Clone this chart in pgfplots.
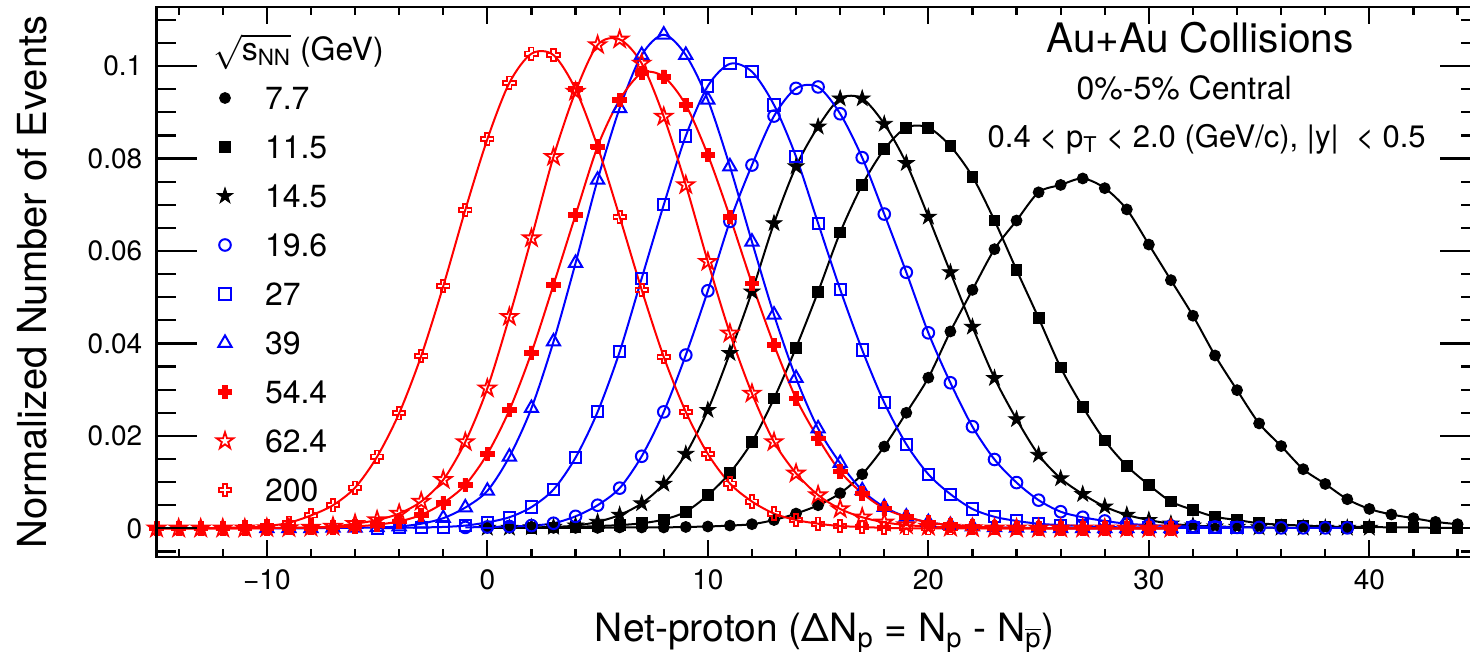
\documentclass[border=0pt]{standalone}
\usepackage{fontspec}
\setmainfont{TeX Gyre Heros}
\usepackage{pgfplots}
\pgfplotsset{compat=1.18}
\usetikzlibrary{plotmarks}

\newcommand{\starpath}{%
  \pgfpathmoveto{\pgfqpointpolar{90}{\pgfplotmarksize}}%
  \pgfpathlineto{\pgfqpointpolar{126}{0.38\pgfplotmarksize}}%
  \pgfpathlineto{\pgfqpointpolar{162}{\pgfplotmarksize}}%
  \pgfpathlineto{\pgfqpointpolar{198}{0.38\pgfplotmarksize}}%
  \pgfpathlineto{\pgfqpointpolar{234}{\pgfplotmarksize}}%
  \pgfpathlineto{\pgfqpointpolar{270}{0.38\pgfplotmarksize}}%
  \pgfpathlineto{\pgfqpointpolar{306}{\pgfplotmarksize}}%
  \pgfpathlineto{\pgfqpointpolar{342}{0.38\pgfplotmarksize}}%
  \pgfpathlineto{\pgfqpointpolar{18}{\pgfplotmarksize}}%
  \pgfpathlineto{\pgfqpointpolar{54}{0.38\pgfplotmarksize}}%
  \pgfpathclose}
\newcommand{\crosspath}{%
  \pgfpathmoveto{\pgfqpoint{-0.34\pgfplotmarksize}{\pgfplotmarksize}}%
  \pgfpathlineto{\pgfqpoint{0.34\pgfplotmarksize}{\pgfplotmarksize}}%
  \pgfpathlineto{\pgfqpoint{0.34\pgfplotmarksize}{0.34\pgfplotmarksize}}%
  \pgfpathlineto{\pgfqpoint{\pgfplotmarksize}{0.34\pgfplotmarksize}}%
  \pgfpathlineto{\pgfqpoint{\pgfplotmarksize}{-0.34\pgfplotmarksize}}%
  \pgfpathlineto{\pgfqpoint{0.34\pgfplotmarksize}{-0.34\pgfplotmarksize}}%
  \pgfpathlineto{\pgfqpoint{0.34\pgfplotmarksize}{-\pgfplotmarksize}}%
  \pgfpathlineto{\pgfqpoint{-0.34\pgfplotmarksize}{-\pgfplotmarksize}}%
  \pgfpathlineto{\pgfqpoint{-0.34\pgfplotmarksize}{-0.34\pgfplotmarksize}}%
  \pgfpathlineto{\pgfqpoint{-\pgfplotmarksize}{-0.34\pgfplotmarksize}}%
  \pgfpathlineto{\pgfqpoint{-\pgfplotmarksize}{0.34\pgfplotmarksize}}%
  \pgfpathlineto{\pgfqpoint{-0.34\pgfplotmarksize}{0.34\pgfplotmarksize}}%
  \pgfpathclose}
\pgfdeclareplotmark{fstar}{\starpath\pgfusepathqfillstroke}
\pgfdeclareplotmark{ostar}{\starpath\pgfusepathqstroke}
\pgfdeclareplotmark{fcross}{\crosspath\pgfusepathqfillstroke}
\pgfdeclareplotmark{ocross}{\crosspath\pgfusepathqstroke}

\begin{document}
\begin{tikzpicture}
\begin{axis}[
  name=main,
  scale only axis, width=661.5pt, height=275pt,
  xmin=-15, xmax=45, ymin=-0.0062, ymax=0.1128,
  clip=false,
  xtick={-10,0,10,20,30,40},
  xticklabels={−10,0,10,20,30,40},
  minor xtick={-14,-12,-8,-6,-4,-2,2,4,6,8,12,14,16,18,22,24,26,28,32,34,36,38,42,44},
  ytick={0,0.02,0.04,0.06,0.08,0.1},
  yticklabels={0,0.02,0.04,0.06,0.08,0.1},
  minor ytick={-0.005,0.005,0.01,0.015,0.025,0.03,0.035,0.045,0.05,0.055,0.065,0.07,0.075,0.085,0.09,0.095,0.105,0.11},
  tick align=inside,
  major tick length=8.5pt, minor tick length=4pt,
  axis line style={line width=1.2pt},
  tick style={line width=1.1pt, black},
  xticklabel style={font=\fontsize{14}{16}\selectfont, inner sep=0pt, yshift=-6pt},
  yticklabel style={font=\fontsize{14}{16}\selectfont, inner sep=0pt, xshift=-7pt},
  xlabel={Net-proton (ΔN\textsubscript{p} = N\textsubscript{p} - N\textsubscript{$\overline{\mbox{p}}$})},
  ylabel={Normalized Number of Events},
  xlabel style={font=\fontsize{19.5}{23}\selectfont, at={([yshift=-42pt]axis description cs:0.505,0)}, anchor=base, inner sep=0pt},
  ylabel style={font=\fontsize{20}{24}\selectfont, at={([xshift=-54.8pt]axis description cs:0,0.5)}, anchor=base, inner sep=0pt},
  legend style={draw=none, fill=none, at={(0,1)}, anchor=north west, xshift=27.2pt, yshift=-13.5pt,
    inner sep=0pt, outer sep=0pt, row sep=9.5pt, column sep=13pt,
    font=\fontsize{16}{19}\selectfont,
    nodes={inner sep=0pt, text height=13pt, text depth=2pt}},
  legend cell align=left,
  legend image code/.code={\path[draw=none,fill=none] (-7pt,-3pt) rectangle (7pt,3pt); \draw[#1,only marks] plot coordinates {(0pt,0pt)};},
  every axis plot/.append style={line width=1pt, smooth},
]
\addlegendimage{empty legend}
\addlegendentry{\hspace*{-26pt}$\sqrt{\mbox{s\textsubscript{NN}}}$ (GeV)}

% 7.7
\addplot[black, mark=*, mark size=2.7pt, mark options={line width=0.5pt}] coordinates {
(0,0.0001)(1,0.0001)(2,0.0001)(3,0.0001)(4,0.0001)(5,0.0001)(6,0.0002)(7,0.0002)(8,0.0002)(9,0.0003)
(10,0.0004)(11,0.0006)(12,0.0009)(13,0.0018)(14,0.0032)(15,0.0050)(16,0.0076)(17,0.0117)(18,0.0177)(19,0.0250)
(20,0.0326)(21,0.0426)(22,0.0516)(23,0.0604)(24,0.0666)(25,0.0727)(26,0.0743)(27,0.0757)(28,0.0736)(29,0.0690)
(30,0.0614)(31,0.0537)(32,0.0460)(33,0.0374)(34,0.0299)(35,0.0227)(36,0.0178)(37,0.0128)(38,0.0096)(39,0.0063)
(40,0.0042)(41,0.0030)(42,0.0022)(43,0.0014)(44,0.0009)};
\addlegendentry{7.7}

% 11.5
\addplot[black, mark=square*, mark size=2.7pt, mark options={line width=0.5pt}] coordinates {
(2,0.0001)(3,0.0002)(4,0.0003)(5,0.0005)(6,0.0007)(7,0.0011)(8,0.0019)(9,0.0036)
(10,0.0072)(11,0.0120)(12,0.0187)(13,0.0281)(14,0.0391)(15,0.0512)(16,0.0640)(17,0.0743)(18,0.0820)(19,0.0867)
(20,0.0867)(21,0.0827)(22,0.0761)(23,0.0666)(24,0.0559)(25,0.0455)(26,0.0348)(27,0.0263)(28,0.0190)(29,0.0135)
(30,0.0094)(31,0.0058)(32,0.0040)(33,0.0025)(34,0.0018)(35,0.0011)(36,0.0008)(37,0.0006)(38,0.0004)(39,0.0003)
(40,0.0003)(41,0.0002)(42,0.0002)(43,0.0001)(44,0.0001)};
\addlegendentry{11.5}

% 14.5
\addplot[black, mark=fstar, mark size=4.2pt, mark options={line width=0.4pt}] coordinates {
(0,0.0001)(1,0.0001)(2,0.0002)(3,0.0003)(4,0.0006)(5,0.0014)(6,0.0029)(7,0.0054)(8,0.0096)(9,0.0161)
(10,0.0256)(11,0.0379)(12,0.0512)(13,0.0660)(14,0.0783)(15,0.0869)(16,0.0930)(17,0.0930)(18,0.0875)(19,0.0790)
(20,0.0674)(21,0.0554)(22,0.0436)(23,0.0325)(24,0.0236)(25,0.0159)(26,0.0108)(27,0.0074)(28,0.0047)(29,0.0029)
(30,0.0018)(31,0.0010)(32,0.0006)(33,0.0004)(34,0.0003)(35,0.0002)(36,0.0001)(37,0.0001)(38,0.0001)(39,0.0001)(40,0.0001)};
\addlegendentry{14.5}

% 19.6
\addplot[blue, mark=o, mark size=2.9pt, mark options={line width=1pt}] coordinates {
(-1,0.0002)(0,0.0003)(1,0.0004)(2,0.0006)(3,0.0011)(4,0.0026)(5,0.0050)(6,0.0087)(7,0.0156)(8,0.0252)(9,0.0375)
(10,0.0514)(11,0.0664)(12,0.0786)(13,0.0892)(14,0.0952)(15,0.0955)(16,0.0897)(17,0.0802)(18,0.0680)(19,0.0554)
(20,0.0423)(21,0.0315)(22,0.0220)(23,0.0149)(24,0.0099)(25,0.0061)(26,0.0036)(27,0.0024)(28,0.0016)(29,0.0010)
(30,0.0007)(31,0.0005)(32,0.0004)(33,0.0003)(34,0.0002)(35,0.0002)(36,0.0001)(37,0.0001)(38,0.0001)(39,0.0001)};
\addlegendentry{19.6}

% 27
\addplot[blue, mark=square, mark size=2.8pt, mark options={line width=1pt}] coordinates {
(-5,0.0000)(-4,0.0001)(-3,0.0002)(-2,0.0003)(-1,0.0006)(0,0.0013)(1,0.0024)(2,0.0046)(3,0.0084)(4,0.0153)
(5,0.0252)(6,0.0382)(7,0.0541)(8,0.0700)(9,0.0849)(10,0.0957)(11,0.1005)(12,0.0988)(13,0.0916)(14,0.0804)
(15,0.0660)(16,0.0517)(17,0.0386)(18,0.0272)(19,0.0182)(20,0.0117)(21,0.0074)(22,0.0042)(23,0.0025)(24,0.0016)
(25,0.0010)(26,0.0007)(27,0.0005)(28,0.0003)(29,0.0002)(30,0.0002)(31,0.0001)(32,0.0001)(33,0.0001)(34,0.0001)};
\addlegendentry{27}

% 39
\addplot[blue, mark=triangle, mark size=3.8pt, mark options={line width=1pt}] coordinates {
(-10,0.0000)(-9,0.0000)(-8,0.0000)(-7,0.0001)(-6,0.0001)(-5,0.0002)(-4,0.0004)(-3,0.0010)(-2,0.0022)(-1,0.0045)
(0,0.0081)(1,0.0155)(2,0.0260)(3,0.0404)(4,0.0574)(5,0.0754)(6,0.0909)(7,0.1024)(8,0.1068)(9,0.1024)
(10,0.0927)(11,0.0783)(12,0.0620)(13,0.0462)(14,0.0325)(15,0.0216)(16,0.0141)(17,0.0082)(18,0.0046)(19,0.0025)
(20,0.0013)(21,0.0007)(22,0.0004)(23,0.0002)(24,0.0001)(25,0.0001)(26,0.0000)(27,0.0000)(28,0.0000)(29,0.0000)(30,0.0000)(31,0.0000)};
\addlegendentry{39}

% 54.4
\addplot[red, mark=fcross, mark size=3.4pt, mark options={line width=0.4pt}] coordinates {
(-15,0)(-14,0)(-13,0)(-12,0)(-11,0)(-10,0)(-9,0.0001)(-8,0.0001)(-7,0.0002)(-6,0.0004)
(-5,0.0008)(-4,0.0015)(-3,0.0029)(-2,0.0055)(-1,0.0094)(0,0.0161)(1,0.0256)(2,0.0380)(3,0.0527)(4,0.0678)
(5,0.0826)(6,0.0927)(7,0.0985)(8,0.0977)(9,0.0916)(10,0.0808)(11,0.0674)(12,0.0530)(13,0.0397)(14,0.0281)
(15,0.0195)(16,0.0123)(17,0.0076)(18,0.0043)(19,0.0025)(20,0.0013)(21,0.0007)(22,0.0004)(23,0.0002)(24,0.0001)
(25,0)(26,0)(27,0)(28,0)(29,0)(30,0)(31,0)};
\addlegendentry{54.4}

% 62.4
\addplot[red, mark=ostar, mark size=4.4pt, mark options={line width=0.9pt}] coordinates {
(-15,0)(-14,0)(-13,0)(-12,0)(-11,0)(-10,0.0001)(-9,0.0001)(-8,0.0002)(-7,0.0004)(-6,0.0010)
(-5,0.0018)(-4,0.0032)(-3,0.0058)(-2,0.0105)(-1,0.0187)(0,0.0303)(1,0.0458)(2,0.0628)(3,0.0804)(4,0.0945)
(5,0.1046)(6,0.1058)(7,0.1006)(8,0.0891)(9,0.0743)(10,0.0577)(11,0.0422)(12,0.0292)(13,0.0187)(14,0.0119)
(15,0.0072)(16,0.0042)(17,0.0024)(18,0.0013)(19,0.0007)(20,0.0004)(21,0.0002)(22,0.0001)(23,0)(24,0)
(25,0)(26,0)(27,0)(28,0)(29,0)(30,0)(31,0)};
\addlegendentry{62.4}

% 200
\addplot[red, mark=ocross, mark size=3.1pt, mark options={line width=0.9pt}] coordinates {
(-15,0)(-14,0)(-13,0)(-12,0.0001)(-11,0.0002)(-10,0.0005)(-9,0.0012)(-8,0.0028)(-7,0.0050)(-6,0.0088)
(-5,0.0155)(-4,0.0249)(-3,0.0373)(-2,0.0524)(-1,0.0689)(0,0.0842)(1,0.0964)(2,0.1027)(3,0.1024)(4,0.0950)
(5,0.0826)(6,0.0674)(7,0.0516)(8,0.0371)(9,0.0252)(10,0.0161)(11,0.0097)(12,0.0058)(13,0.0032)(14,0.0018)
(15,0.0010)(16,0.0005)(17,0.0003)(18,0.0001)(19,0)(20,0)(21,0)(22,0)(23,0)(24,0)
(25,0)(26,0)(27,0)(28,0)(29,0)(30,0)(31,0)};
\addlegendentry{200}

\node[font=\fontsize{20.3}{24}\selectfont, anchor=base] at (axis cs:32.32,0.1029) {Au+Au Collisions};
\node[font=\fontsize{16}{19}\selectfont, anchor=base] at (axis cs:31.6,0.0927) {0\%-5\% Central};
\node[font=\fontsize{15.5}{18}\selectfont, anchor=base] at (axis cs:32.62,0.0825) {0.4 < p\textsubscript{T} < 2.0 (GeV/c), |y| \ <\ 0.5};
\end{axis}

\begin{axis}[
  at={(main.south west)}, anchor=south west,
  scale only axis, width=661.5pt, height=275pt,
  xmin=-15, xmax=45, ymin=-0.0062, ymax=0.1128,
  hide x axis,
  ytick={0,0.02,0.04,0.06,0.08,0.1},
  yticklabels={},
  minor ytick={-0.005,0.005,0.01,0.015,0.025,0.03,0.035,0.045,0.05,0.055,0.065,0.07,0.075,0.085,0.09,0.095,0.105,0.11},
  tick align=inside,
  major tick length=20pt, minor tick length=9.5pt,
  axis line style={line width=1.2pt},
  tick style={line width=1.1pt, black},
]
\end{axis}

\pgfresetboundingbox
\path[use as bounding box] (main.south west) ++(-78.3pt,-47.5pt) rectangle ++(735pt,326pt);
\end{tikzpicture}
\end{document}
